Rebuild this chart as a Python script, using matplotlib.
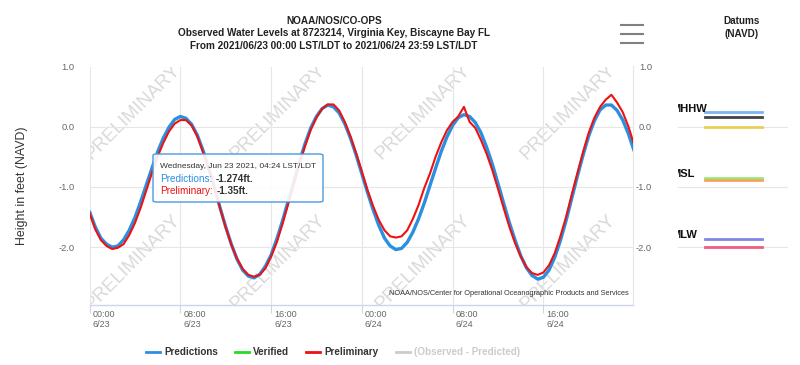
import numpy as np
import matplotlib
matplotlib.use('Agg')
import matplotlib.pyplot as plt
from matplotlib.lines import Line2D
from matplotlib.patches import FancyBboxPatch
import matplotlib.transforms as mtransforms

plt.rcParams['font.family'] = ['Liberation Sans', 'DejaVu Sans']
plt.rcParams['axes.unicode_minus'] = False

# ---------------- data ----------------
hours = np.arange(0, 48.5, 0.5)
predictions = [
    -1.41, -1.66, -1.85, -1.95, -2.00, -1.98, -1.88, -1.72, -1.51, -1.25, -0.97, -0.69, -0.42, -0.19, -0.01, 0.12,
    0.17, 0.14, 0.04, -0.14, -0.39, -0.68, -1.00, -1.34, -1.66, -1.95, -2.20, -2.38, -2.48, -2.51, -2.45, -2.32,
    -2.13, -1.87, -1.57, -1.24, -0.91, -0.58, -0.28, -0.02, 0.17, 0.30, 0.36, 0.33, 0.23, 0.05, -0.19, -0.47,
    -0.78, -1.09, -1.38, -1.64, -1.85, -1.98, -2.04, -2.02, -1.92, -1.75, -1.53, -1.27, -0.98, -0.69, -0.41, -0.17,
    0.02, 0.15, 0.20, 0.17, 0.07, -0.10, -0.34, -0.62, -0.94, -1.27, -1.59, -1.88, -2.14, -2.34, -2.47, -2.53,
    -2.50, -2.38, -2.17, -1.89, -1.56, -1.19, -0.82, -0.47, -0.15, 0.10, 0.28, 0.36, 0.36, 0.27, 0.11, -0.12,
    -0.40,
]
preliminary = [
    -1.43, -1.70, -1.88, -1.98, -2.03, -2.01, -1.95, -1.80, -1.60, -1.35, -1.06, -0.77, -0.50, -0.27, -0.08, 0.05,
    0.11, 0.11, 0.02, -0.16, -0.42, -0.70, -1.02, -1.35, -1.67, -1.96, -2.19, -2.36, -2.46, -2.49, -2.46, -2.35,
    -2.16, -1.92, -1.62, -1.29, -0.96, -0.62, -0.32, -0.05, 0.15, 0.30, 0.37, 0.37, 0.27, 0.08, -0.16, -0.44,
    -0.74, -1.05, -1.32, -1.55, -1.72, -1.82, -1.84, -1.82, -1.72, -1.53, -1.30, -1.02, -0.78, -0.50, -0.26, -0.06,
    0.08, 0.17, 0.33, 0.08, -0.02, -0.22, -0.45, -0.72, -1.03, -1.35, -1.66, -1.93, -2.15, -2.33, -2.43, -2.46,
    -2.42, -2.30, -2.10, -1.82, -1.50, -1.13, -0.77, -0.42, -0.10, 0.15, 0.33, 0.45, 0.53, 0.40, 0.24, 0.00,
    -0.30,
]
xtick_hours = [0, 8, 16, 24, 32, 40]
xtick_labels = ['00:00\n6/23', '08:00\n6/23', '16:00\n6/23', '00:00\n6/24', '08:00\n6/24', '16:00\n6/24']
yticks = [1.0, 0.0, -1.0, -2.0]
datum_names = ['MHHW', 'MHW', 'NAVD88', 'MSL', 'MTL', 'MLW', 'MLLW']
datum_values = [0.24, 0.155, 0.0, -0.85, -0.88, -1.86, -2.0]
datum_colors = ['#7cb5ec', '#434348', '#e4d354', '#90ed7d', '#f7a35c', '#8085e9', '#f15c80']
datum_labeled = ['MHHW', 'MSL', 'MLW']
legend_names = ['Predictions', 'Verified', 'Preliminary', '(Observed - Predicted)']
legend_colors = ['#2b8fe0', '#22dd22', '#ee1111', '#cccccc']

# ---------------- layout ----------------
W, H = 800, 365
fig = plt.figure(figsize=(W / 100, H / 100), dpi=100)
def fx(px): return px / W
def fy(py): return 1 - py / H

YLIM = (-2.96, 1.0)
ax = fig.add_axes([fx(89.5), fy(305), fx(633) - fx(89.5), fy(66.5) - fy(305)])
ax.set_xlim(0, 47.9)
ax.set_ylim(*YLIM)

# watermark
for xc in [3.8, 16.6, 29.4, 42.2]:
    for yc in [0.25, -2.24]:
        ax.text(xc, yc, 'PRELIMINARY', rotation=45, ha='center', va='center',
                rotation_mode='anchor', fontsize=13.5, color='#d9d9d9',
                clip_on=True, zorder=0.5)

ax.plot(hours, predictions, color=legend_colors[0], lw=2.4, zorder=3, solid_capstyle='round')
ax.plot(hours, preliminary, color='#ee1111', lw=1.5, zorder=4)

ax.set_axisbelow(True)
ax.grid(True, color='#e6e6e6', lw=0.8)
for s in ['top', 'left']:
    ax.spines[s].set_visible(False)
ax.spines['right'].set_color('#e6e6e6')
ax.spines['bottom'].set_color('#ccd6eb')
ax.spines['bottom'].set_linewidth(1.0)

ax.set_yticks(yticks)
ax.set_yticklabels([f'{v:.1f}' for v in yticks])
ax.tick_params(axis='y', which='both', left=False, right=False, labelleft=True,
               labelright=True, labelsize=6.7, labelcolor='#666666', pad=11)
off_l = mtransforms.ScaledTranslation(0.05, 0, fig.dpi_scale_trans)
off_r = mtransforms.ScaledTranslation(-0.01, 0, fig.dpi_scale_trans)
for t in ax.yaxis.get_major_ticks():
    t.label1.set_transform(t.label1.get_transform() + off_l)
    t.label2.set_horizontalalignment('right')
    t.label2.set_transform(t.label2.get_transform() + off_r)

ax.set_xticks(xtick_hours)
ax.set_xticklabels(xtick_labels, fontsize=6.5, color='#666666', ha='left')
ax.tick_params(axis='x', length=5.8, color='#ccd6eb', width=0.8, pad=-2.2)
off = mtransforms.ScaledTranslation(0.03, 0, fig.dpi_scale_trans)
for lab in ax.get_xticklabels():
    lab.set_transform(lab.get_transform() + off)

ax.text(0.993, 0.05, 'NOAA/NOS/Center for Operational Oceanographic Products and Services',
        transform=ax.transAxes, ha='right', va='center', fontsize=5.3, color='#333333', zorder=6)

fig.text(fx(22), fy(186), 'Height in feet (NAVD)', rotation=90, ha='center', va='center',
         fontsize=8.9, color='#333333')

# titles
for i, line in enumerate(['NOAA/NOS/CO-OPS',
                          'Observed Water Levels at 8723214, Virginia Key, Biscayne Bay FL',
                          'From 2021/06/23 00:00 LST/LDT to 2021/06/24 23:59 LST/LDT']):
    fig.text(fx(334), fy(20.7 + 12.6 * i), line, ha='center', va='center', fontsize=7.2,
             fontweight='bold', color='#222222')

# hamburger icon
for py in [25, 34, 43]:
    fig.add_artist(Line2D([fx(621), fx(643)], [fy(py), fy(py)], color='#808080', lw=1.5))

# tooltip
box = FancyBboxPatch((fx(153), fy(202)), fx(323) - fx(153), fy(154) - fy(202),
                     boxstyle='round,pad=0,rounding_size=0.004', transform=fig.transFigure,
                     facecolor=(1, 1, 1, 0.9), edgecolor='#4a9be0', lw=1.0, zorder=10)
fig.add_artist(box)
fig.text(fx(160), fy(166), 'Wednesday, Jun 23 2021, 04:24 LST/LDT', fontsize=6.0,
         color='#333333', va='center', zorder=11)
t1 = fig.text(fx(160), fy(178.5), 'Predictions:', fontsize=7.2, color='#2b8fe0', va='center', zorder=11)
fig.add_artist(matplotlib.text.Annotation('-1.274ft.', xy=(1, 0.5), xycoords=t1, xytext=(2.5, 0),
               textcoords='offset points', va='center', ha='left', fontsize=7.2,
               fontweight='bold', color='#333333', zorder=11))
t2 = fig.text(fx(160), fy(191.5), 'Preliminary:', fontsize=7.2, color='#ee1111', va='center', zorder=11)
fig.add_artist(matplotlib.text.Annotation('-1.35ft.', xy=(1, 0.5), xycoords=t2, xytext=(2.5, 0),
               textcoords='offset points', va='center', ha='left', fontsize=7.2,
               fontweight='bold', color='#333333', zorder=11))

# legend (manual)
leg_x = [146, 235, 306, 396]
for name, col, x0 in zip(legend_names, legend_colors, leg_x):
    fig.add_artist(Line2D([fx(x0), fx(x0 + 14)], [fy(352), fy(352)], color=col, lw=2))
    fig.text(fx(x0 + 18), fy(352), name, fontsize=7.1, fontweight='bold',
             color='#cccccc' if name.startswith('(') else '#333333', va='center', ha='left')

# datums panel
dax = fig.add_axes([fx(678), fy(305), fx(788) - fx(678), fy(66.5) - fy(305)])
dax.set_xlim(0, 1)
dax.set_ylim(*YLIM)
for v in yticks:
    dax.axhline(v, color='#e6e6e6', lw=0.8, zorder=0)
for name, val, col in zip(datum_names, datum_values, datum_colors):
    dax.plot([0.245, 0.764], [val, val], color=col, lw=2, zorder=2)
    if name in datum_labeled:
        dax.text(-0.065, val + 0.06, name, ha='left', va='center', fontsize=8,
                 fontweight='bold', color='#111111', clip_on=True)
dax.axis('off')
fig.text(fx(742), fy(20.7), 'Datums', ha='center', va='center', fontsize=7.2,
         fontweight='bold', color='#222222')
fig.text(fx(742), fy(33.7), '(NAVD)', ha='center', va='center', fontsize=7.2,
         fontweight='bold', color='#222222')

fig.savefig('out.png', dpi=100)
